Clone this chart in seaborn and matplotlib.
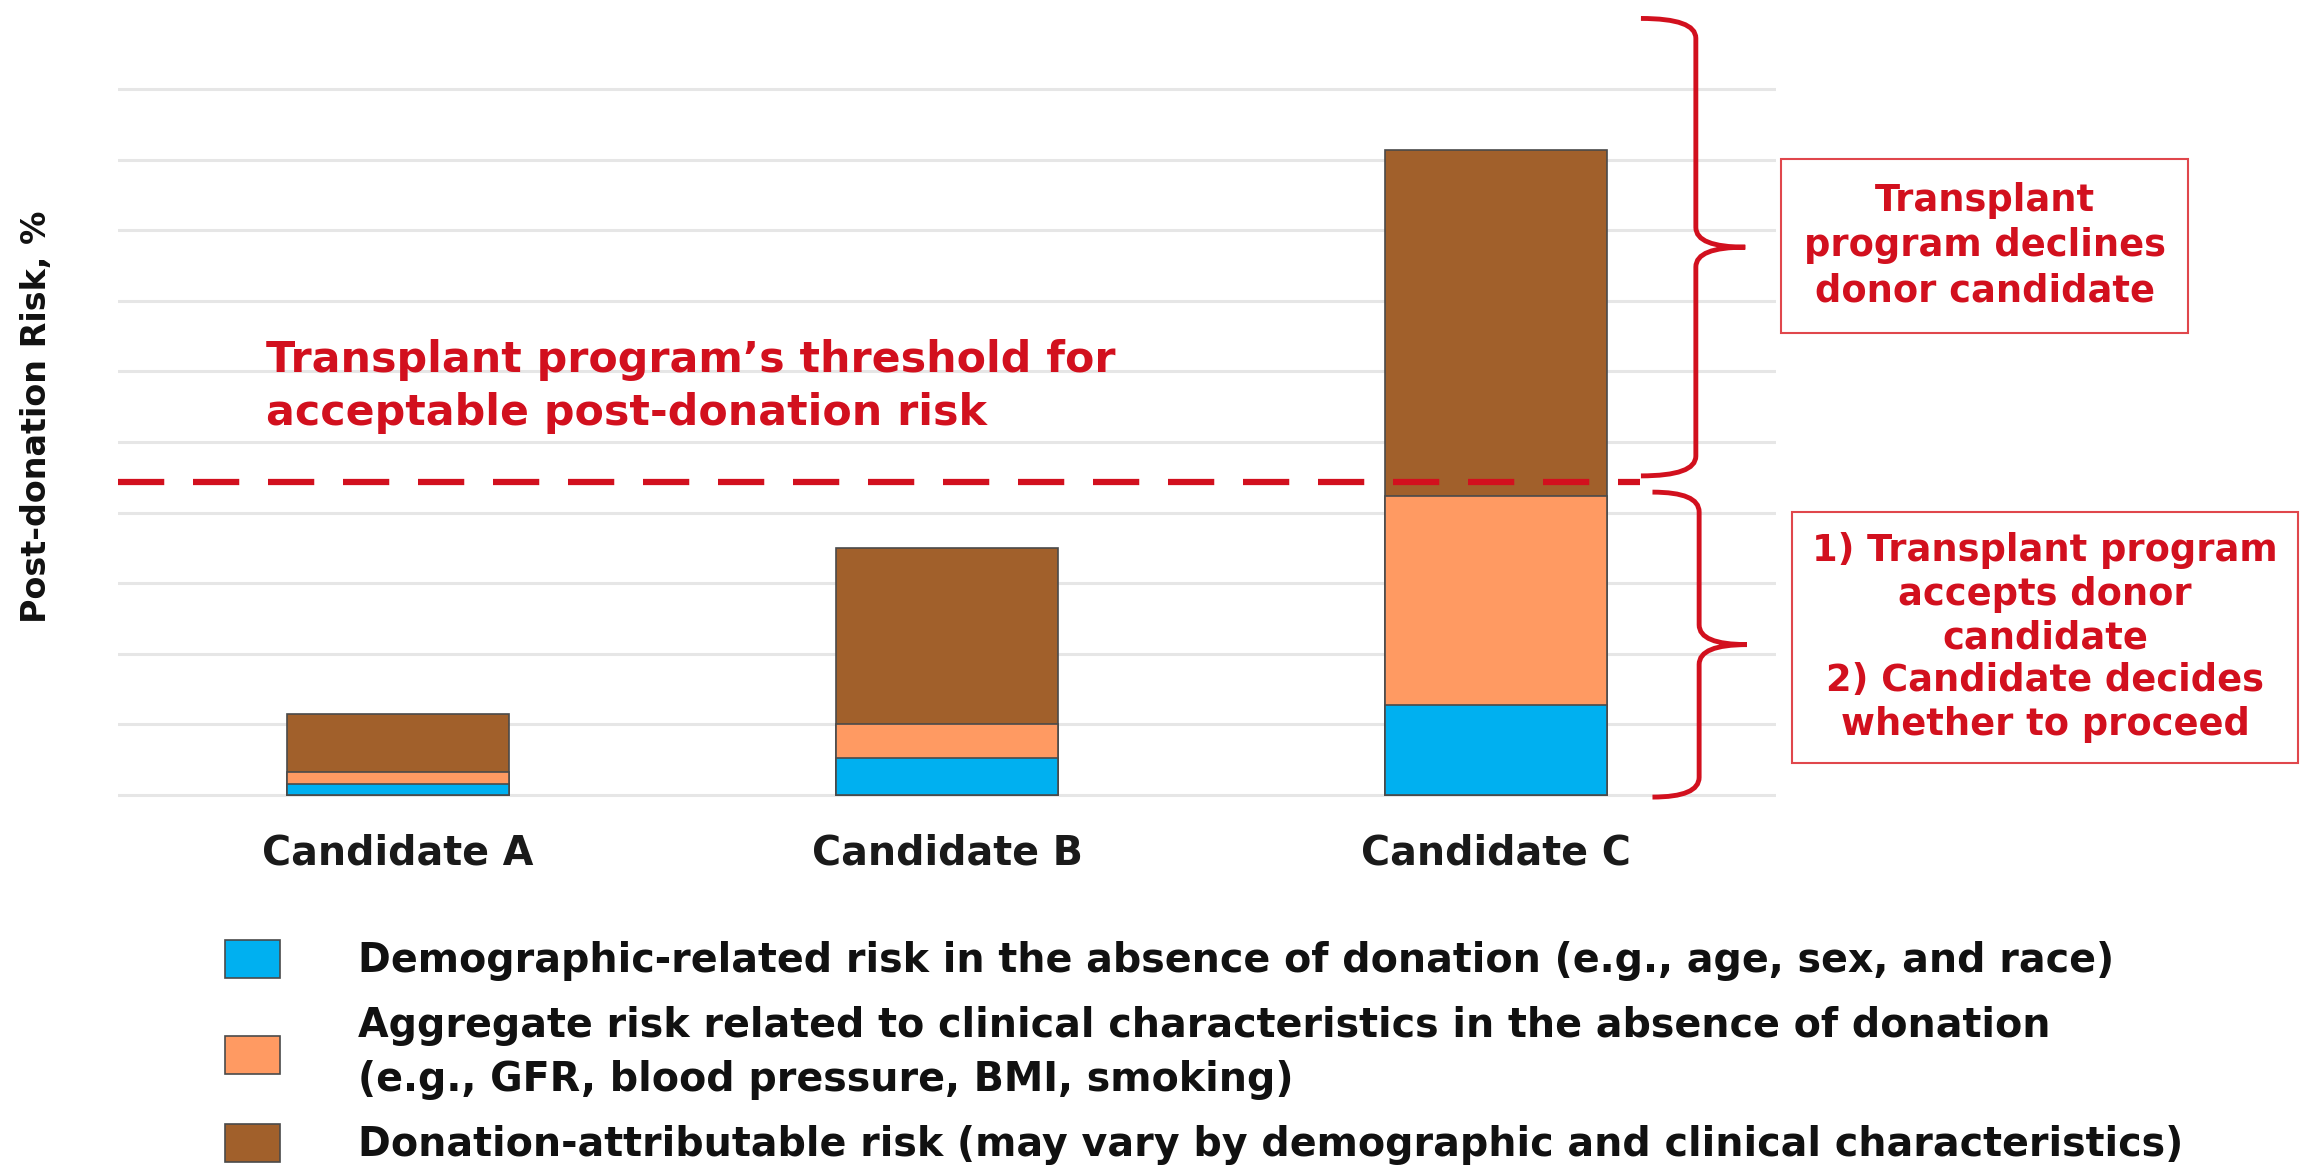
import numpy as np
import matplotlib
matplotlib.use("Agg")
import matplotlib.pyplot as plt
from matplotlib.path import Path
from matplotlib.patches import PathPatch, Patch
import seaborn as sns

# ---------------- data ----------------
candidates = ["Candidate A", "Candidate B", "Candidate C"]
demographic_risk = [0.15, 0.52, 1.28]
clinical_risk = [0.18, 0.48, 2.96]
donation_risk = [0.82, 2.50, 4.89]
threshold = 4.43
y_ticks = list(range(0, 11))

legend_labels = [
    "Demographic-related risk in the absence of donation (e.g., age, sex, and race)",
    "Aggregate risk related to clinical characteristics in the absence of donation\n(e.g., GFR, blood pressure, BMI, smoking)",
    "Donation-attributable risk (may vary by demographic and clinical characteristics)",
]
threshold_text = "Transplant program\u2019s threshold for\nacceptable post-donation risk"
decline_text = "Transplant\nprogram declines\ndonor candidate"
accept_text = "1) Transplant program\naccepts donor\ncandidate\n2) Candidate decides\nwhether to proceed"
y_label = "Post-donation Risk, %"

# ---------------- style ----------------
BLUE = "#00B0F0"
ORANGE = "#FF9A62"
BROWN = "#A1602B"
RED = "#D2101E"
BOX_RED = "#E0474C"
EDGE = "#4a4a4a"

sns.set_theme(style="white")
plt.rcParams["font.family"] = ["DejaVu Sans"]
plt.rcParams["font.weight"] = "bold"

fig = plt.figure(figsize=(23.2, 11.74), dpi=100)
W, H = 2320, 1174
ax_left, ax_right = 118, 1776
ax_top, ax_bot = 85.5, 798.5
ax = fig.add_axes([ax_left / W, 1 - ax_bot / H, (ax_right - ax_left) / W, (ax_bot - ax_top) / H])

blue_top = np.array(demographic_risk)
orange_top = blue_top + np.array(clinical_risk)
brown_top = orange_top + np.array(donation_risk)

bar_kw = dict(order=candidates, width=0.404, saturation=1, edgecolor=EDGE, linewidth=1.2, ax=ax)
sns.barplot(x=candidates, y=brown_top, color=BROWN, **bar_kw)
sns.barplot(x=candidates, y=orange_top, color=ORANGE, **bar_kw)
sns.barplot(x=candidates, y=blue_top, color=BLUE, **bar_kw)

ax.set_xlim(-0.51, 2.51)
ax.set_ylim(-0.05, 10.05)
ax.set_yticks(y_ticks)
ax.grid(axis="y", color="#E6E6E6", linewidth=2.2)
ax.grid(axis="x", visible=False)
ax.set_axisbelow(True)
for s in ax.spines.values():
    s.set_visible(False)
ax.tick_params(axis="y", left=False, labelleft=False)
ax.tick_params(axis="x", length=0, pad=25, labelsize=28.5, labelcolor="#1a1a1a")
for t in ax.get_xticklabels():
    t.set_fontweight("bold")
ax.set_xlabel("")
ax.set_ylabel("")

fig.text(37 / W, 1 - 417 / H, y_label, rotation=90, ha="center", va="center",
         fontsize=24, fontweight="bold", color="#111111")

# threshold line
ax.hlines(threshold, -0.51, 2.262, colors=RED, linewidth=4.5, linestyles=(0, (7.4, 4.6)), zorder=5)
ax.text(-0.24, 5.78, threshold_text, ha="left", va="center", fontsize=30.8, fontweight="bold",
        color=RED, linespacing=1.33)


def brace(x, y0, y1, hook, tip, r=0.28):
    ym = (y0 + y1) / 2
    verts = [
        (x - hook, y1),
        (x, y1), (x, y1 - r),
        (x, ym + r),
        (x, ym), (x + tip, ym),
        (x, ym), (x, ym - r),
        (x, y0 + r),
        (x, y0), (x - hook, y0),
    ]
    codes = [Path.MOVETO,
             Path.CURVE3, Path.CURVE3,
             Path.LINETO,
             Path.CURVE3, Path.CURVE3,
             Path.CURVE3, Path.CURVE3,
             Path.LINETO,
             Path.CURVE3, Path.CURVE3]
    p = PathPatch(Path(verts, codes), fill=False, edgecolor=RED, linewidth=3.5,
                  transform=ax.transData, clip_on=False, zorder=6)
    ax.add_patch(p)
    return ym


ym_up = brace(2.364, threshold + 0.09, 11.0, 0.10, 0.09)
ym_lo = brace(2.37, -0.03, threshold - 0.14, 0.085, 0.087)

ax.text(2.89, ym_up + 0.02, decline_text, ha="center", va="center", fontsize=26.5, fontweight="bold",
        color=RED, linespacing=1.3, clip_on=False,
        bbox=dict(boxstyle="square,pad=0.62", facecolor="white", edgecolor=BOX_RED, linewidth=1.5))
ax.text(3.0, ym_lo + 0.1, accept_text, ha="center", va="center", fontsize=26.5, fontweight="bold",
        color=RED, linespacing=1.22, clip_on=False,
        bbox=dict(boxstyle="square,pad=0.55", facecolor="white", edgecolor=BOX_RED, linewidth=1.5))

# legend
handles = [Patch(facecolor=c, edgecolor=EDGE, linewidth=1.2) for c in (BLUE, ORANGE, BROWN)]
leg = fig.legend(handles, legend_labels, loc="upper left", bbox_to_anchor=(225 / W, 1 - 940 / H),
                 frameon=False, fontsize=28.5, handlelength=1.4, handleheight=1.1,
                 handletextpad=1.95, labelspacing=0.61, borderpad=0, borderaxespad=0)
for t in leg.get_texts():
    t.set_fontweight("bold")
    t.set_color("#111111")
    t.set_linespacing(1.45)

fig.savefig("out.png", dpi=100, facecolor="white")
